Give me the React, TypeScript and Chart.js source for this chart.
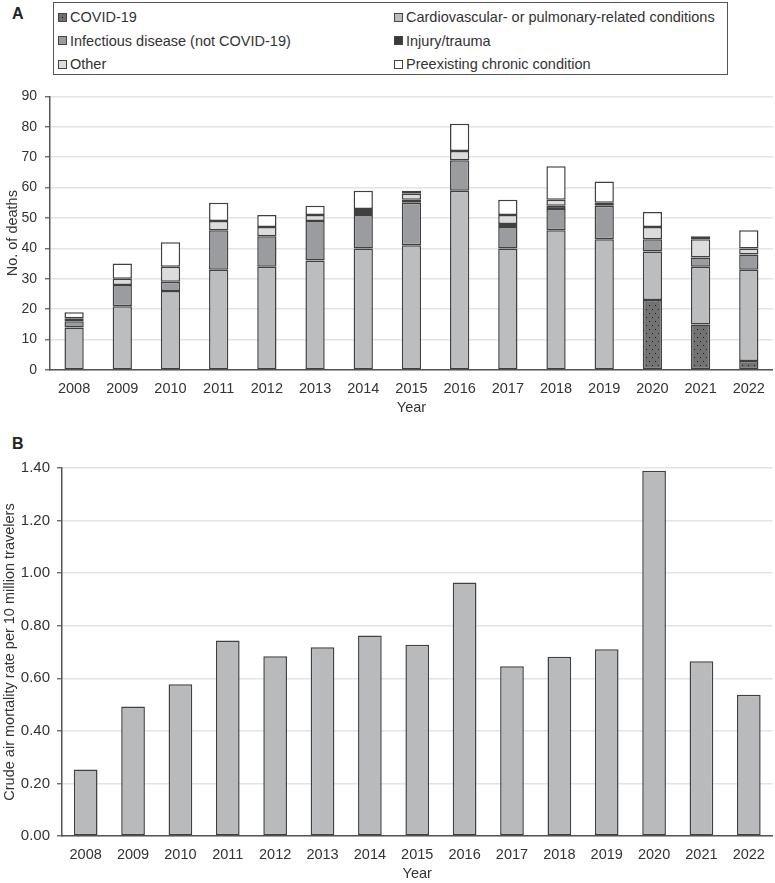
import { useEffect, useRef } from "react";
import { Chart, registerables } from "chart.js";

Chart.register(...registerables);

const YEARS = ["2008", "2009", "2010", "2011", "2012", "2013", "2014", "2015", "2016", "2017", "2018", "2019", "2020", "2021", "2022"];

// Panel A: deaths by cause (stacked bottom -> top)
const COVID = [0, 0, 0, 0, 0, 0, 0, 0, 0, 0, 0, 0, 23, 15, 3];
const CARDIO = [14, 21, 26, 33, 34, 36, 40, 41, 59, 40, 46, 43, 16, 19, 30];
const INFECTIOUS = [2, 7, 3, 13, 10, 13, 11, 14, 10, 7, 7, 11, 4, 3, 5];
const INJURY = [0, 0, 0, 0, 0, 0, 1, 1, 0, 1, 1, 0, 0, 0, 0];
const OTHER = [1, 2, 5, 3, 3, 2, 1, 2, 3, 3, 2, 1, 4, 6, 2];
const PREEXISTING = [2, 5, 8, 6, 4, 3, 6, 1, 9, 5, 11, 7, 5, 1, 6];

// Panel B: crude rate per 10 million travelers
const RATE = [0.253, 0.493, 0.577, 0.744, 0.684, 0.718, 0.763, 0.728, 0.964, 0.646, 0.682, 0.71, 1.39, 0.665, 0.537];

const FONT = "'Liberation Sans', Arial, sans-serif";
const TEXT = "#333";
const EDGE = "#404040";
const GRID = "#e4e4e4";

function dotPattern() {
  const c = document.createElement("canvas");
  c.width = 6;
  c.height = 8;
  const g = c.getContext("2d")!;
  g.fillStyle = "#727272";
  g.fillRect(0, 0, 6, 8);
  g.fillStyle = "#1e1e1e";
  g.fillRect(1, 1, 1, 1);
  g.fillRect(4, 5, 1, 1);
  return g.createPattern(c, "repeat")!;
}

const bw = (ctx: any) => (ctx.raw ? 1.5 : 0);

function PanelA() {
  const ref = useRef<HTMLCanvasElement>(null);
  useEffect(() => {
    if (!ref.current) return;
    const seg = (label: string, data: number[], bg: any) => ({
      label,
      data,
      backgroundColor: bg,
      borderColor: EDGE,
      borderWidth: bw,
      borderSkipped: false as const,
      barPercentage: 0.8,
      categoryPercentage: 0.5,
    });
    const chart = new Chart(ref.current, {
      type: "bar",
      data: {
        labels: YEARS,
        datasets: [
          seg("COVID-19", COVID, dotPattern()),
          seg("Cardiovascular- or pulmonary-related conditions", CARDIO, "#bcbdbf"),
          seg("Infectious disease (not COVID-19)", INFECTIOUS, "#9b9c9f"),
          seg("Injury/trauma", INJURY, "#3a3a3a"),
          seg("Other", OTHER, "#dcdcdd"),
          seg("Preexisting chronic condition", PREEXISTING, "#ffffff"),
        ],
      },
      options: {
        responsive: false,
        animation: false,
        layout: { padding: { top: 10, right: 2, left: 0, bottom: 0 } },
        plugins: { legend: { display: false }, tooltip: { enabled: false } },
        scales: {
          x: {
            stacked: true,
            afterFit: (s: any) => { s.height = 47; },
            grid: { display: false, drawTicks: false },
            border: { display: true, color: "#555", width: 1.5 },
            ticks: { color: TEXT, font: { family: FONT, size: 14.5 }, padding: 10, maxRotation: 0 },
            title: { display: true, text: "Year", color: TEXT, font: { family: FONT, size: 14.5 }, padding: { top: 0, bottom: 0 } },
          },
          y: {
            stacked: true,
            min: 0,
            max: 90,
            afterFit: (s: any) => { s.width = 50; },
            grid: { color: GRID, lineWidth: 1.5, drawTicks: true, tickLength: 5, tickColor: "#555", tickWidth: 1.2 },
            border: { display: true, color: "#555", width: 1.5 },
            ticks: { stepSize: 10, color: TEXT, font: { family: FONT, size: 14 }, padding: 8 },
            title: { display: true, text: "No. of deaths", color: TEXT, font: { family: FONT, size: 14.5 }, padding: { top: 4, bottom: 0 } },
          },
        },
      },
    });
    return () => chart.destroy();
  }, []);
  return <canvas ref={ref} width={775} height={337} style={{ position: "absolute", left: 0, top: 80, width: 775, height: 337 }} />;
}

function PanelB() {
  const ref = useRef<HTMLCanvasElement>(null);
  useEffect(() => {
    if (!ref.current) return;
    const chart = new Chart(ref.current, {
      type: "bar",
      data: {
        labels: YEARS,
        datasets: [
          {
            label: "Crude air mortality rate",
            data: RATE,
            backgroundColor: "#b9babc",
            borderColor: EDGE,
            borderWidth: 1.5,
            borderSkipped: false,
            barPercentage: 1,
            categoryPercentage: 0.5,
          },
        ],
      },
      options: {
        responsive: false,
        animation: false,
        layout: { padding: { top: 15, right: 2, left: 0, bottom: 0 } },
        plugins: { legend: { display: false }, tooltip: { enabled: false } },
        scales: {
          x: {
            afterFit: (s: any) => { s.height = 47; },
            grid: { display: false, drawTicks: false },
            border: { display: true, color: "#555", width: 1.5 },
            ticks: { color: TEXT, font: { family: FONT, size: 14.5 }, padding: 10, maxRotation: 0 },
            title: { display: true, text: "Year", color: TEXT, font: { family: FONT, size: 14.5 }, padding: { top: 0, bottom: 0 } },
          },
          y: {
            min: 0,
            max: 1.4,
            afterFit: (s: any) => { s.width = 62; },
            grid: { color: GRID, lineWidth: 1.5, drawTicks: true, tickLength: 5, tickColor: "#555", tickWidth: 1.2 },
            border: { display: true, color: "#555", width: 1.5 },
            ticks: { stepSize: 0.2, color: TEXT, font: { family: FONT, size: 15 }, padding: 7, callback: (v: any) => Number(v).toFixed(2) },
            title: { display: true, text: "Crude air mortality rate per 10 million travelers", color: TEXT, font: { family: FONT, size: 14.5 }, padding: { top: 1, bottom: 0 } },
          },
        },
      },
    });
    return () => chart.destroy();
  }, []);
  return <canvas ref={ref} width={775} height={431} style={{ position: "absolute", left: 0, top: 452, width: 775, height: 431 }} />;
}

const LEGEND = [
  { label: "COVID-19", color: "#6e6e6e", dot: true },
  { label: "Cardiovascular- or pulmonary-related conditions", color: "#bcbdbf" },
  { label: "Infectious disease (not COVID-19)", color: "#9b9c9f" },
  { label: "Injury/trauma", color: "#3a3a3a" },
  { label: "Other", color: "#dcdcdd" },
  { label: "Preexisting chronic condition", color: "#ffffff" },
];

export default function App() {
  return (
    <div style={{ position: "absolute", left: 0, top: 0, width: 775, height: 883, background: "#fff", fontFamily: FONT, color: TEXT, overflow: "hidden" }}>
      <div style={{ position: "absolute", left: 12, top: 5, fontSize: 16, fontWeight: 700, color: "#222" }}>A</div>
      <div style={{ position: "absolute", left: 12, top: 435, fontSize: 16, fontWeight: 700, color: "#222" }}>B</div>

      {/* legend box, two columns */}
      <div style={{ position: "absolute", left: 53, top: 2, width: 673, height: 71, border: "1px solid #555" }}>
        {LEGEND.map((it, i) => (
          <div
            key={it.label}
            style={{
              position: "absolute",
              left: i % 2 === 0 ? 4 : 340,
              top: 4 + Math.floor(i / 2) * 23.5,
              height: 20,
              display: "flex",
              alignItems: "center",
              fontSize: 14.5,
              whiteSpace: "nowrap",
            }}
          >
            <span
              style={{
                display: "inline-block",
                width: 7,
                height: 7,
                marginRight: 3,
                background: it.color,
                border: "1px solid #444",
                position: "relative",
              }}
            >
              {it.dot && <span style={{ position: "absolute", left: 3, top: 3, width: 1, height: 1, background: "#111" }} />}
            </span>
            {it.label}
          </div>
        ))}
      </div>

      <PanelA />
      <PanelB />
    </div>
  );
}
